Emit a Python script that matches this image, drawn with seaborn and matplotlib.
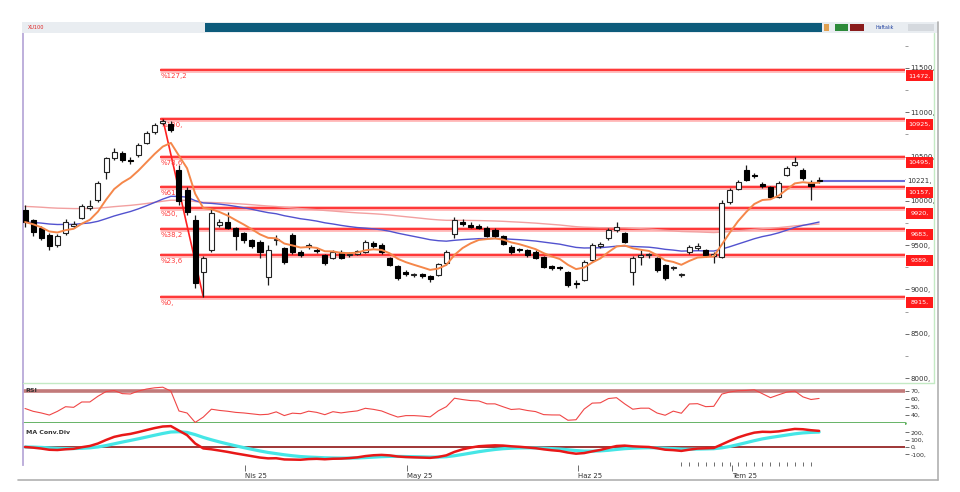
import numpy as np
import matplotlib
matplotlib.use("Agg")
import matplotlib.pyplot as plt
import matplotlib.transforms as mtransforms
from matplotlib.patches import Rectangle
from matplotlib.lines import Line2D
import seaborn as sns

# XU100 daily candles, late Feb -> mid Jul 2025
opens = [9897, 9784, 9694, 9615, 9502, 9637, 9716, 9807, 9919, 10010,
         10326, 10484, 10540, 10461, 10518, 10653, 10778, 10879, 10868, 10350,
         10123, 9784, 9197, 9445, 9728, 9761, 9694, 9637, 9558, 9536,
         9140, 9558, 9468, 9615, 9423, 9479, 9445, 9389, 9355, 9423,
         9389, 9400, 9423, 9524, 9502, 9355, 9265, 9197, 9163, 9174,
         9152, 9163, 9298, 9626, 9761, 9728, 9716, 9694, 9671, 9603,
         9479, 9445, 9445, 9423, 9366, 9265, 9242, 9197, 9073, 9107,
         9332, 9490, 9581, 9671, 9637, 9197, 9366, 9389, 9355, 9276,
         9242, 9163, 9423, 9468, 9445, 9377, 9366, 9987, 10134, 10348,
         10292, 10190, 10156, 10044, 10292, 10405, 10348, 10213, 10224]
highs = [9950, 9800, 9720, 9640, 9630, 9790, 9770, 9960, 10010, 10225,
         10500, 10600, 10560, 10500, 10650, 10790, 10880, 10925, 10900, 10405,
         10160, 9840, 9380, 9919, 9800, 9874, 9710, 9650, 9570, 9560,
         9500, 9615, 9480, 9640, 9440, 9530, 9470, 9400, 9440, 9440,
         9420, 9450, 9560, 9550, 9520, 9370, 9280, 9220, 9190, 9190,
         9165, 9300, 9440, 9818, 9790, 9760, 9740, 9715, 9690, 9615,
         9500, 9470, 9460, 9440, 9380, 9280, 9270, 9210, 9110, 9330,
         9520, 9540, 9690, 9760, 9650, 9380, 9445, 9410, 9370, 9290,
         9270, 9190, 9500, 9520, 9460, 9420, 10010, 10140, 10240, 10405,
         10320, 10210, 10170, 10220, 10390, 10500, 10370, 10240, 10270]
lows = [9700, 9600, 9560, 9445, 9480, 9620, 9690, 9790, 9900, 9990,
        10250, 10460, 10440, 10420, 10500, 10640, 10760, 10860, 10780, 9950,
        9840, 9016, 8915, 9423, 9700, 9680, 9445, 9530, 9470, 9355,
        9050, 9502, 9290, 9400, 9370, 9460, 9410, 9280, 9340, 9340,
        9370, 9390, 9410, 9470, 9400, 9260, 9110, 9150, 9140, 9130,
        9084, 9150, 9280, 9581, 9720, 9690, 9680, 9590, 9580, 9500,
        9400, 9420, 9370, 9340, 9240, 9220, 9215, 9030, 9016, 9090,
        9320, 9470, 9560, 9650, 9520, 9050, 9276, 9360, 9200, 9110,
        9220, 9140, 9400, 9450, 9370, 9298, 9350, 9970, 10120, 10220,
        10260, 10150, 10030, 10030, 10280, 10390, 10240, 10010, 10200]
closes = [9761, 9649, 9581, 9490, 9603, 9761, 9739, 9942, 9942, 10202,
          10484, 10552, 10461, 10450, 10631, 10766, 10857, 10902, 10800, 10000,
          9874, 9073, 9355, 9863, 9761, 9694, 9603, 9558, 9490, 9423,
          9445, 9560, 9310, 9423, 9389, 9502, 9434, 9298, 9423, 9355,
          9400, 9434, 9536, 9490, 9423, 9276, 9129, 9174, 9174, 9152,
          9118, 9287, 9423, 9784, 9739, 9705, 9694, 9603, 9603, 9513,
          9423, 9440, 9389, 9355, 9253, 9242, 9240, 9050, 9060, 9310,
          9502, 9513, 9671, 9705, 9536, 9355, 9389, 9389, 9219, 9129,
          9245, 9165, 9479, 9490, 9389, 9400, 9976, 10123, 10213, 10235,
          10281, 10168, 10044, 10202, 10371, 10440, 10258, 10168, 10221]

month_labels = ["Nis 25", "May 25", "Haz 25", "Tem 25"]
month_starts = [27, 47, 68, 87]
day_ticks = list(range(81, 98))

# fibonacci drawn from the March top (bar 17) to the crash low (bar 22)
fib_from, fib_to = 17, 22
fib_ratios = [0, 23.6, 38.2, 50, 61.8, 78.6, 100, 127.2]
fib_labels = ["%0,", "%23,6", "%38,2", "%50,", "%61,8", "%78,6", "%100,", "%127,2"]

price_ticks = [8000, 8500, 9000, 9500, 10000, 10500, 11000, 11500]
rsi_ticks = [40, 50, 60, 70]
macd_ticks = [-100, 0, 100, 200]

# indicator settings
fast_span, mid_span, long_span = 8, 48, 140
long_seed = 9940
rsi_period, rsi_seed_gain, rsi_seed_loss = 14, 55.0, 60.0


def ema(vals, span, seed=None):
    a = 2.0 / (span + 1)
    prev = vals[0] if seed is None else seed
    out = []
    for v in vals:
        prev = prev + a * (v - prev)
        out.append(prev)
    return np.array(out)


def rsi(vals, n, g0, l0):
    g, lo = g0, l0
    out = []
    prev = vals[0]
    for v in vals:
        d = v - prev
        prev = v
        g = (g * (n - 1) + max(d, 0)) / n
        lo = (lo * (n - 1) + max(-d, 0)) / n
        out.append(100 - 100 / (1 + g / lo))
    return np.array(out)


o = np.array(opens, float)
h = np.array(highs, float)
l = np.array(lows, float)
c = np.array(closes, float)
x = np.arange(len(c))
up = c >= o

ma_fast = ema(c, fast_span)
ma_mid = ema(c, mid_span)
ma_long = ema(c, long_span, long_seed)
rsi_v = rsi(c, rsi_period, rsi_seed_gain, rsi_seed_loss)
macd = ema(c, 12) - ema(c, 26)
signal = ema(macd, 9)

sns.set_theme(style="white")
plt.rcParams["font.family"] = ["DejaVu Sans"]

W, H = 960, 492
fig = plt.figure(figsize=(9.6, 4.92), dpi=100)
fig.patch.set_facecolor("white")


def place(x0, y0, x1, y1):
    return [x0 / W, 1 - y1 / H, (x1 - x0) / W, (y1 - y0) / H]


ax = fig.add_axes(place(23, 33, 905, 383))
ax_rsi = fig.add_axes(place(23, 383, 905, 423))
ax_macd = fig.add_axes(place(23, 423, 905, 465))
xmin, xmax = -0.25, 108.6

for a in (ax, ax_rsi, ax_macd):
    a.set_facecolor("white")
    a.set_xlim(xmin, xmax)
    for s in ("top", "right", "bottom"):
        a.spines[s].set_visible(False)
    a.spines["left"].set_color("#b9a9d9")
    a.spines["left"].set_linewidth(1.3)
    a.yaxis.tick_right()
    a.tick_params(axis="y", length=3, width=0.6, pad=1, labelsize=5,
                  colors="#555555", labelcolor="#333333")
    a.set_xlabel("")
    a.set_ylabel("")

# ---- price panel
ax.set_ylim(7944, 11895)
ax.set_xticks([])

fib_hi = h[fib_from]
fib_lo = l[fib_to]
levels = fib_lo + (fib_hi - fib_lo) * np.array(fib_ratios) / 100
ax.hlines(levels, fib_from - 0.4, xmax, color="#ffb5b5", lw=3.4, zorder=1)
ax.hlines(levels, fib_from - 0.4, xmax, color="#ff2c2c", lw=1.3, zorder=1)
ax.plot([fib_from, fib_to], [fib_hi, fib_lo], color="#ff2020", lw=1.2, zorder=2)
for lev, lab in zip(levels, fib_labels):
    ax.text(fib_from - 0.3, lev - 30, lab, color="#ff3b3b", fontsize=5,
            va="top", ha="left", zorder=2)

sns.lineplot(x=x, y=ma_long, ax=ax, color="#f2a0a0", lw=1.0, zorder=2)
sns.lineplot(x=x, y=ma_mid, ax=ax, color="#5252cf", lw=1.0, zorder=2)

ax.vlines(x, l, h, color="#1a1a1a", lw=0.9, zorder=3)
body_lo = np.minimum(o, c)
body_h = np.maximum(np.abs(c - o), 14)
ax.bar(x[up], body_h[up], bottom=body_lo[up], width=0.62, color="white",
       edgecolor="#222222", lw=0.8, zorder=4)
ax.bar(x[~up], body_h[~up], bottom=body_lo[~up], width=0.62, color="black",
       edgecolor="black", lw=0.8, zorder=4)

sns.lineplot(x=x, y=ma_fast, ax=ax, color="#f5874a", lw=1.4, zorder=5)

ax.hlines(c[-1], x[-1], xmax, color="#6b6bd6", lw=1.5, zorder=3)

ax.set_yticks(price_ticks)
ax.set_yticklabels([f"{t}," for t in price_ticks])
ax.set_yticks(np.arange(8250, 11800, 500), minor=True)
ax.tick_params(axis="y", which="minor", length=2, width=0.5, colors="#777777")

trans = mtransforms.blended_transform_factory(ax.transAxes, ax.transData)
box_h = 124
for lev in levels:
    ax.add_patch(Rectangle((1.001, lev - box_h), 0.0305, box_h, transform=trans,
                           facecolor="#ff1a1a", edgecolor="none", clip_on=False, zorder=6))
    ax.text(1.0162, lev - box_h / 2, f"{int(round(lev))},", transform=trans,
            ha="center", va="center", color="white", fontsize=4.6, clip_on=False, zorder=7)
ax.text(1.002, c[-1], f"{int(c[-1])},", transform=trans, ha="left", va="center",
        color="#333333", fontsize=5, clip_on=False, zorder=7,
        bbox=dict(facecolor="white", edgecolor="none", pad=0.3))

# ---- RSI panel
ax_rsi.set_ylim(29.5, 80)
ax_rsi.set_xticks([])
ax_rsi.axhline(70, color="#c27a7a", lw=2.6, zorder=1)
ax_rsi.axhline(30, color="#58ad58", lw=2.0, zorder=1, clip_on=False)
sns.lineplot(x=x, y=rsi_v, ax=ax_rsi, color="#f04646", lw=0.8, zorder=2)
ax_rsi.set_yticks(rsi_ticks)
ax_rsi.set_yticklabels([f"{t}," for t in rsi_ticks])
ax_rsi.tick_params(axis="y", labelsize=4.5)
ax_rsi.text(0.003, 0.80, "RSI", transform=ax_rsi.transAxes, fontsize=4.5,
            fontweight="bold", color="#333333", va="center")
ax_rsi.set_xlim(xmin, xmax)

# ---- MACD panel
ax_macd.set_ylim(-247, 329)
ax_macd.axhline(0, color="#8e1414", lw=1.2, zorder=1)
sns.lineplot(x=x, y=signal, ax=ax_macd, color="#45e6e6", lw=2.3, zorder=2)
sns.lineplot(x=x, y=macd, ax=ax_macd, color="#e81818", lw=1.8, zorder=3)
ax_macd.set_yticks(macd_ticks)
ax_macd.set_yticklabels([f"{t}," for t in macd_ticks])
ax_macd.tick_params(axis="y", labelsize=4.5)
ax_macd.text(0.003, 0.78, "MA Conv.Div", transform=ax_macd.transAxes, fontsize=4.5,
             fontweight="bold", color="#333333", va="center")
ax_macd.set_xticks([m + 0.2 for m in month_starts])
ax_macd.set_xticklabels(month_labels, ha="left")
ax_macd.tick_params(axis="x", bottom=True, length=4, width=0.6, pad=1.5,
                    labelsize=5, colors="#555555", labelcolor="#333333")
ax_macd.set_xlim(xmin, xmax)
tmix = mtransforms.blended_transform_factory(ax_macd.transData, ax_macd.transAxes)
ax_macd.vlines(day_ticks, -0.02, 0.08, transform=tmix, color="#555555", lw=0.6,
               clip_on=False)

# ---- window chrome
def frect(x0, y0, x1, y1, color):
    fig.add_artist(Rectangle((x0 / W, 1 - y1 / H), (x1 - x0) / W, (y1 - y0) / H,
                             transform=fig.transFigure, facecolor=color,
                             edgecolor="none"))


def fline(xs, ys, color, lw):
    fig.add_artist(Line2D([v / W for v in xs], [1 - v / H for v in ys],
                          transform=fig.transFigure, color=color, lw=lw))


frect(22, 22, 938, 33, "#e9edf1")
frect(205, 23, 822, 32, "#0d5b7b")
frect(824, 24, 829, 31, "#e0a050")
frect(835, 24, 848, 31, "#2d8a3a")
frect(850, 24, 864, 31, "#8a1c1c")
frect(908, 24, 934, 31, "#d5d9de")
fig.text(28 / W, 1 - 27.5 / H, "XU100", color="#e02020", fontsize=3.6, va="center")
fig.text(875 / W, 1 - 27.5 / H, "Haftalık", color="#2040a0", fontsize=3.4, va="center")
fline([23, 934], [383, 383], "#c4eac4", 1.0)
fline([934, 934], [33, 383], "#c4eac4", 1.0)
fline([938, 938], [22, 480], "#b0b0b0", 1.2)
fline([18, 938], [480, 480], "#b0b0b0", 1.2)

fig.savefig("out.png", dpi=100, facecolor="white")
